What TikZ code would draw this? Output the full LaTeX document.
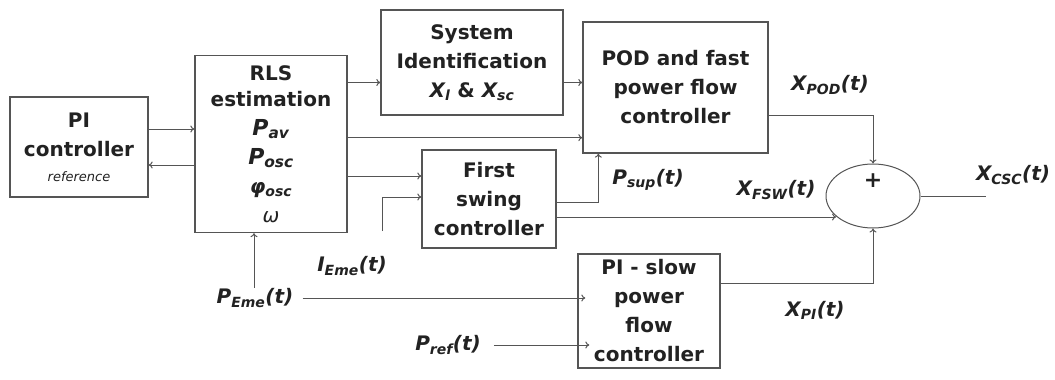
\documentclass[tikz,border=0pt]{standalone}
\usepackage{fontspec}
\setmainfont{DejaVu Sans}
\usetikzlibrary{shapes.geometric, arrows.meta}
\definecolor{linegray}{HTML}{555555}
\definecolor{txtgray}{HTML}{222222}
\newcommand{\sig}[2]{#1\textsubscript{#2}}

\begin{document}
\begin{tikzpicture}[x=1pt, y=-1pt,
    block/.style={draw=linegray, line width=1.3pt, fill=white, align=center, inner sep=0pt,
        text=txtgray, font=\fontsize{20}{29}\selectfont\bfseries},
    sig/.style={text=txtgray, font=\fontsize{20}{24}\selectfont\bfseries\itshape, inner sep=1pt},
    wire/.style={draw=linegray, line width=1pt},
    arr/.style={wire, -{To[length=4pt, width=7pt]}}]
    \useasboundingbox (0,0) rectangle (1055,380);

    % Draw nodes
    \node[block, minimum width=138pt, minimum height=100pt] (pi) at (79,147)
        {PI\\controller\\[-4pt]{\fontsize{13}{15}\selectfont\mdseries\itshape reference}};
    \node[block, minimum width=152pt, minimum height=177pt] (rls) at (271,144)
        {RLS\\[-3pt]estimation\\{\itshape\fontsize{22}{29}\selectfont \sig{P}{av}}\\{\itshape\fontsize{22}{29}\selectfont \sig{P}{osc}}\\{\itshape \sig{φ}{osc}}\\{\itshape\mdseries ω}};
    \node[block, minimum width=182pt, minimum height=105pt] (sysid) at (472,62.5)
        {System\\Identification\\{\itshape \sig{X}{l} \upshape \& \itshape \sig{X}{sc}}};
    \node[block, minimum width=185pt, minimum height=131pt] (pod) at (675.5,87.5)
        {POD and fast\\power flow\\controller};
    \node[block, minimum width=134pt, minimum height=98pt] (fsw) at (489,199)
        {First\\swing\\controller};
    \node[block, minimum width=142pt, minimum height=114pt] (pis) at (649,311)
        {PI - slow\\power\\flow\\controller};
    \node[ellipse, draw=linegray, line width=1pt, minimum width=94pt, minimum height=64pt] (sum) at (873,196) {};
    \node[text=txtgray, font=\fontsize{22}{24}\selectfont\bfseries] (plus) at (873,181) {+};

    % Labels
    \node[sig] (xpod) at (830,85) {\sig{X}{POD}(t)};
    \node[sig] (xfsw) at (776,190) {\sig{X}{FSW}(t)};
    \node[sig] (xcsc) at (1013,175) {\sig{X}{CSC}(t)};
    \node[sig] (xpi) at (815,310) {\sig{X}{PI}(t)};
    \node[sig] (psup) at (648,180) {\sig{P}{sup}(t)};
    \node[sig] (ieme) at (352,266) {\sig{I}{Eme}(t)};
    \node[sig] (peme) at (255,298) {\sig{P}{Eme}(t)};
    \node[sig] (pref) at (448,345) {\sig{P}{ref}(t)};

    % Draw connections
    \draw[arr] ([yshift=18pt]pi.east) -- ([yshift=18pt]pi.east -| rls.west);
    \draw[arr] ([yshift=-21pt]rls.west) -- ([yshift=-21pt]rls.west -| pi.east);

    \coordinate (c1) at ([yshift=-20pt]sysid.west);
    \draw[arr] (rls.east |- c1) -- (c1);
    \draw[arr] (sysid.east |- c1) -- (pod.west |- c1);
    \coordinate (c2) at ([yshift=16pt]pod.south west);
    \draw[arr] (rls.east |- c2) -- (c2);
    \coordinate (c3) at ([yshift=23pt]fsw.west);
    \draw[arr] (rls.east |- c3) -- (c3);

    \coordinate (ie) at (382,231);
    \draw[arr] (ie) |- ([yshift=2pt]fsw.west);
    \draw[arr] ([yshift=-3pt]fsw.east) -| ([xshift=16pt]pod.south west);
    \coordinate (c4) at ([yshift=-18pt]fsw.east);
    \draw[arr] (c4) -- (c4 -| sum.209);

    \draw[arr] ([yshift=-27.5pt]pod.east) -| (sum.north);
    \draw[arr] ([yshift=28pt]pis.east) -| (sum.south);
    \coordinate (out) at (986,196);
    \draw[wire] (sum.east) -- (out);

    \coordinate (c5) at ([xshift=-17pt]rls.south);
    \draw[arr] (peme.north -| c5) -- (c5);
    \draw[arr] ([xshift=8pt]peme.east) -- ([xshift=8pt]peme.east -| pis.west);
    \draw[arr] ([xshift=12pt]pref.east) -- ([xshift=12pt]pref.east -| pis.west);
\end{tikzpicture}
\end{document}
